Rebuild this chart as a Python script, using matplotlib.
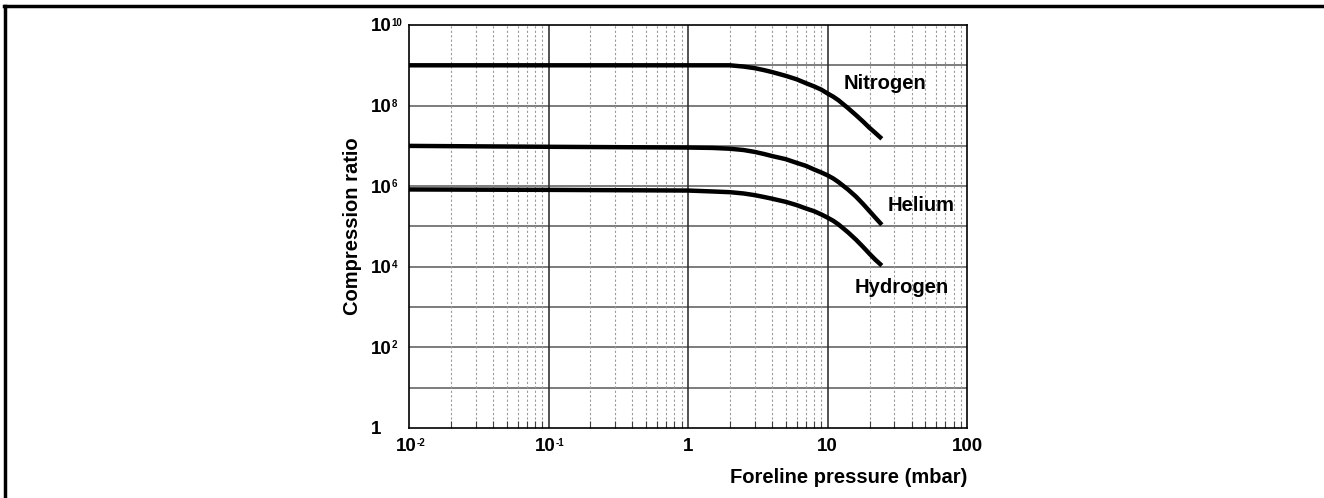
import matplotlib
matplotlib.use("Agg")
from matplotlib import pyplot as plt
from matplotlib.lines import Line2D
from matplotlib.transforms import offset_copy
from matplotlib.ticker import FixedLocator, LogLocator, NullFormatter

plt.rcParams['font.family'] = ['Liberation Sans', 'DejaVu Sans']
plt.rcParams['font.weight'] = 'bold'

# values
pressure = [0.01, 0.1, 1, 1.5, 2, 2.5, 3, 3.5, 4, 5, 6, 7, 8, 9, 10, 11, 12, 14, 16, 18, 20, 22, 24.5]
nitrogen = [1e9, 1e9, 1e9, 1e9, 1e9, 9.3e8, 8.5e8, 7.6e8, 6.8e8, 5.5e8, 4.5e8, 3.6e8,
            3.0e8, 2.5e8, 2.0e8, 1.66e8, 1.35e8, 8.7e7, 5.8e7, 4.0e7, 2.8e7, 2.1e7, 1.5e7]
helium = [1e7, 9.5e6, 9.1e6, 8.9e6, 8.5e6, 7.9e6, 7.1e6, 6.3e6, 5.6e6, 4.7e6, 3.8e6, 3.2e6,
          2.6e6, 2.2e6, 1.86e6, 1.55e6, 1.26e6, 8.3e5, 5.5e5, 3.6e5, 2.4e5, 1.66e5, 1.1e5]
hydrogen = [8.3e5, 8.1e5, 7.8e5, 7.4e5, 7.1e5, 6.6e5, 6.0e5, 5.4e5, 4.9e5, 4.1e5, 3.4e5, 2.8e5,
            2.4e5, 2.0e5, 1.66e5, 1.38e5, 1.12e5, 7.2e4, 4.7e4, 3.1e4, 2.1e4, 1.5e4, 1.07e4]

gases = ["Nitrogen", "Helium", "Hydrogen"]
label_pos = [(26, 3.6e8), (47, 3.4e5), (34, 3e3)]

# tick labels: (value, base, exponent)
xticks = [(0.01, "10", "-2"), (0.1, "10", "-1"), (1, "1", ""), (10, "10", ""), (100, "100", "")]
yticks = [(1, "1", ""), (1e2, "10", "2"), (1e4, "10", "4"), (1e6, "10", "6"),
          (1e8, "10", "8"), (1e10, "10", "10")]

fig = plt.figure(figsize=(13.24, 4.98), dpi=100)
ax = fig.add_axes([0.3089, 0.1406, 0.4215, 0.8092])

ax.set_xscale("log")
ax.set_yscale("log")
ax.set_xlim(0.01, 100)
ax.set_ylim(1, 1e10)

# grid: solid decades, dotted minor verticals
for k in range(1, 10):
    ax.axhline(10.0 ** k, color="#666666", lw=1.2, zorder=1)
for v in [0.1, 1, 10]:
    ax.axvline(v, color="#333333", lw=1.2, zorder=1)
ax.xaxis.set_minor_locator(LogLocator(base=10, subs=range(2, 10)))
ax.xaxis.set_minor_formatter(NullFormatter())
ax.grid(True, which="minor", axis="x", color="#9a9a9a", ls=(0, (2, 2)), lw=0.8)

for ys in [nitrogen, helium, hydrogen]:
    ax.plot(pressure, ys, color="black", lw=3.2, solid_capstyle="butt", zorder=3)

for name, (px, py) in zip(gases, label_pos):
    ax.text(px, py, name, fontsize=14.5, fontweight="bold", ha="center", va="center", zorder=4)

ax.xaxis.set_major_locator(FixedLocator([t[0] for t in xticks]))
ax.xaxis.set_major_formatter(NullFormatter())
ax.yaxis.set_major_locator(FixedLocator([t[0] for t in yticks]))
ax.yaxis.set_major_formatter(NullFormatter())
ax.yaxis.set_minor_locator(FixedLocator([]))
ax.tick_params(axis="both", which="major", length=0)
ax.tick_params(axis="x", which="minor", direction="in", length=5, width=0.8, color="#404040")

base_size = 13.5
exp_size = 7


def power_label(x, y, tr, base, ex, ha, va):
    t = ax.text(x, y, base, transform=tr, ha=ha, va=va, fontsize=base_size, fontweight="bold")
    if ex:
        ax.annotate(ex, xy=(1, 1), xycoords=t, xytext=(0, 0.3), textcoords="offset points",
                    ha="left", va="top", fontsize=exp_size, fontweight="bold")


# x tick labels
xtr = ax.get_xaxis_transform()
for v, base, ex in xticks:
    shift = -3 if ex else 0
    tr = offset_copy(xtr, fig=fig, x=shift, y=-10, units="dots")
    power_label(v, 0, tr, base, ex, "center", "top")

# y tick labels, left aligned in one column
ytr = ax.get_yaxis_transform()
for v, base, ex in yticks:
    tr = offset_copy(ytr, fig=fig, x=-38, y=-2, units="dots")
    power_label(0, v, tr, base, ex, "left", "center")

for s in ax.spines.values():
    s.set_linewidth(1.2)

ax.set_xlabel("Foreline pressure (mbar)", fontsize=14.5, fontweight="bold", ha="right", va="top")
ax.xaxis.set_label_coords(1.0, -0.1)
ax.set_ylabel("Compression ratio", fontsize=14.5, fontweight="bold")
ax.yaxis.set_label_coords(-0.084, 0.5)

# outer frame lines of the page
fig.add_artist(Line2D([0.003, 0.999], [0.987, 0.987], color="black", lw=2.5))
fig.add_artist(Line2D([0.004, 0.004], [0.0, 0.987], color="black", lw=2.5))

fig.savefig("out.png", dpi=100)
